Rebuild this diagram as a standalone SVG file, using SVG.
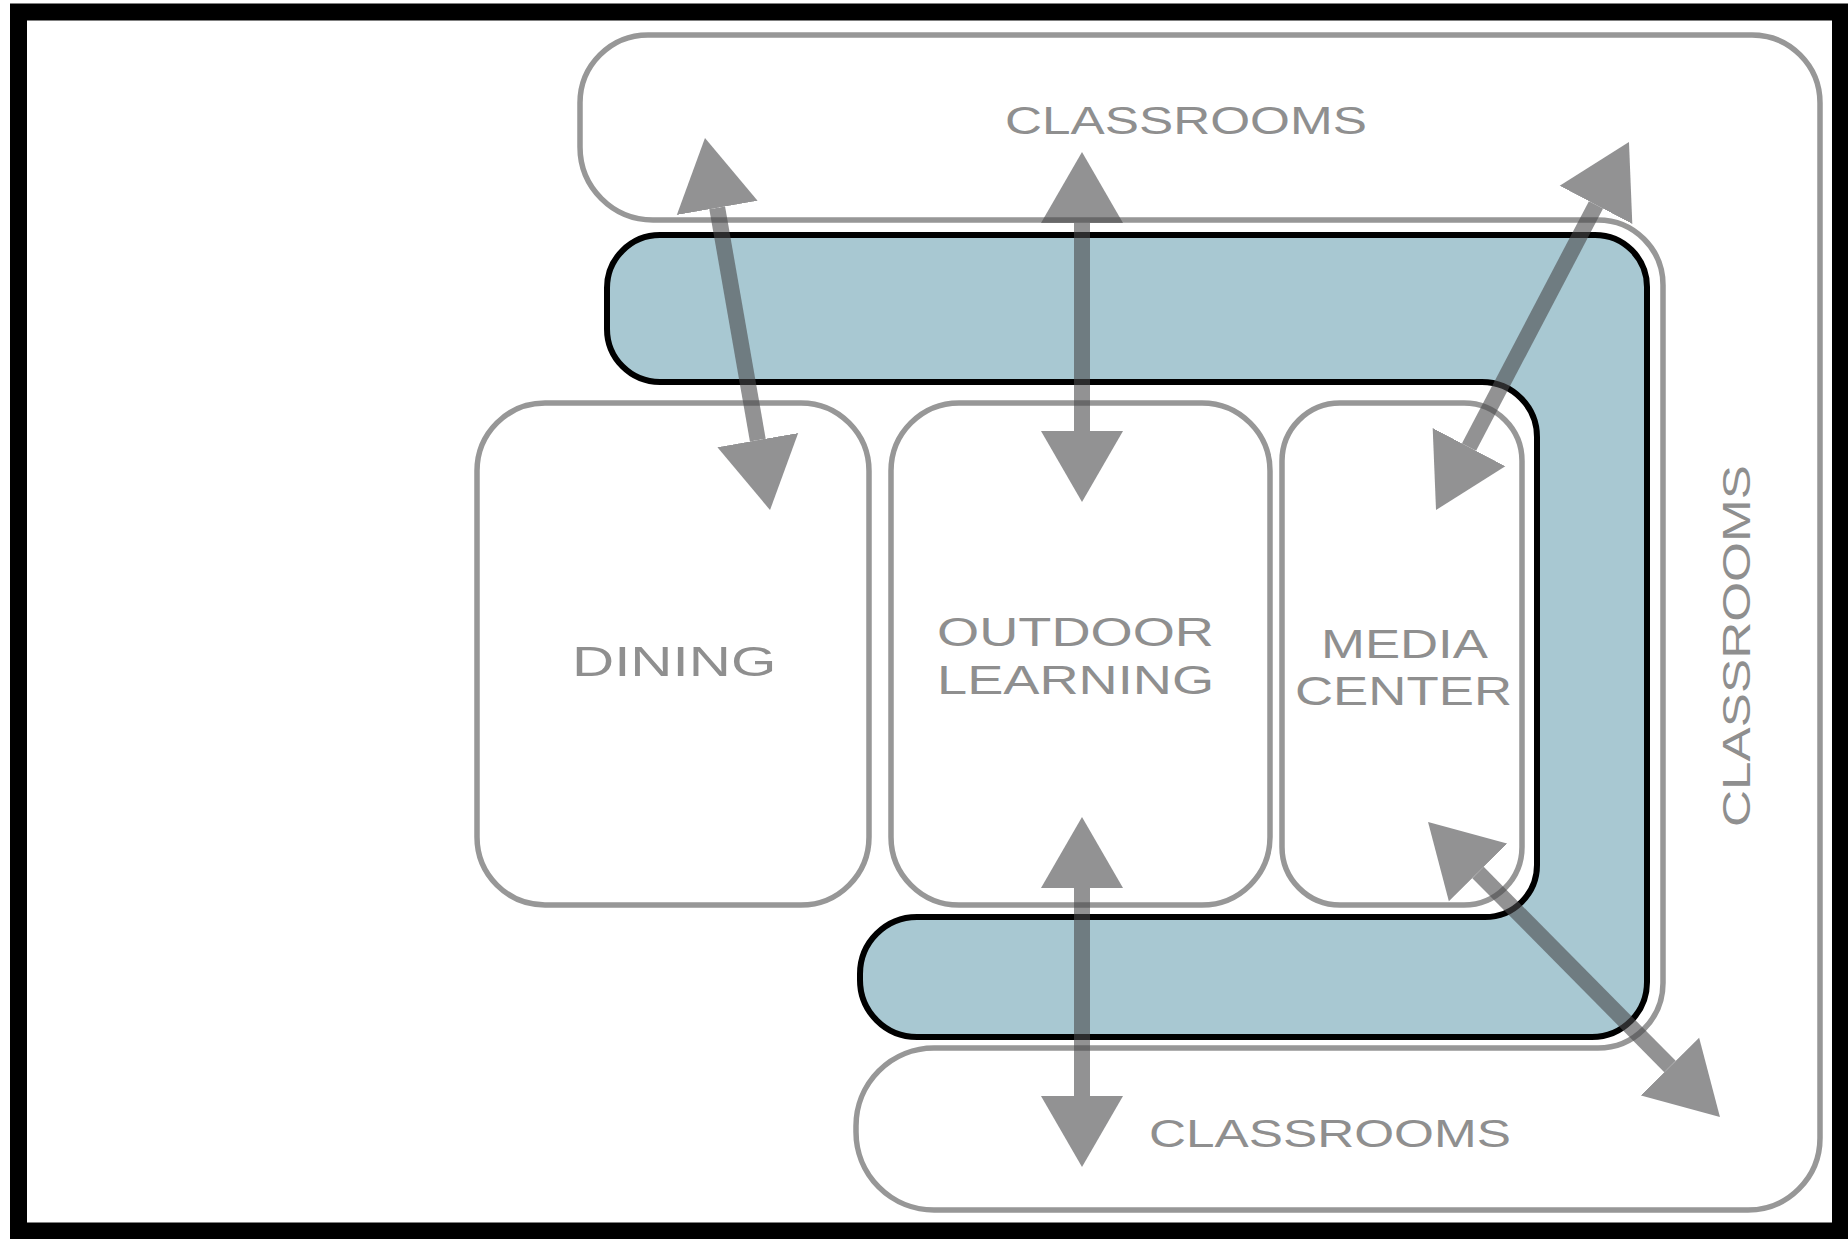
<svg xmlns="http://www.w3.org/2000/svg" width="1848" height="1239" viewBox="0 0 1848 1239">
<style>
.outline{fill:none;stroke:#979797;stroke-width:5.5}
.lbl{font-family:"Liberation Sans",Arial,sans-serif;font-size:40px;fill:#8f8f8f}
.cls{font-size:38px}
.shaft{stroke:#4a4a4c;stroke-width:16;fill:none}
</style>
<defs>
<marker id="head" markerUnits="userSpaceOnUse" viewBox="0 -42 72 84" markerWidth="72" markerHeight="84" refX="0" refY="0" orient="auto-start-reverse">
<path d="M0,-41 L71,0 L0,41 Z" fill="#4a4a4c"/>
</marker>
</defs>
<rect width="1848" height="1239" fill="#ffffff"/>
<g id="frame"><rect x="18.5" y="12" width="1822" height="1219" fill="none" stroke="#000" stroke-width="17"/></g>
<g id="classrooms">
<path class="outline" d="M648,35 H1752 A68 68 0 0 1 1820,103 V1138 A72 72 0 0 1 1748,1210 H934 A78 78 0 0 1 856,1132 V1126 A78 78 0 0 1 934,1048 H1598 A65 65 0 0 0 1663,983 V285 A65 65 0 0 0 1598,220 H653 A73 73 0 0 1 580,147 V103 A68 68 0 0 1 648,35 Z"/>
<text class="lbl cls" transform="translate(1005,134) scale(1.35,1)">CLASSROOMS</text>
<text class="lbl cls" transform="translate(1149,1147) scale(1.35,1)">CLASSROOMS</text>
<text class="lbl cls" transform="translate(1750,827) rotate(-90) scale(1.35,1)">CLASSROOMS</text>
</g>
<g id="dining">
<rect class="outline" x="477" y="403" width="392" height="502" rx="68" ry="68"/>
<text class="lbl" style="font-size:42px" transform="translate(572,676) scale(1.39,1)">DINING</text>
</g>
<g id="outdoor-learning">
<rect class="outline" x="891" y="403" width="379" height="502" rx="68" ry="68"/>
<text class="lbl" transform="translate(937,646) scale(1.355,1)">OUTDOOR</text>
<text class="lbl" transform="translate(937,694) scale(1.355,1)">LEARNING</text>
</g>
<g id="media-center">
<rect class="outline" x="1282" y="403" width="240" height="502" rx="58" ry="58"/>
<text class="lbl" transform="translate(1321,658) scale(1.318,1)">MEDIA</text>
<text class="lbl" transform="translate(1295,705) scale(1.32,1)">CENTER</text>
</g>
<g id="circulation">
<path d="M660,235 H1595 A52 52 0 0 1 1647,287 V982 A55 55 0 0 1 1592,1037 H917 A57 57 0 0 1 860,980 V974 A57 57 0 0 1 917,917 H1485 A52 52 0 0 0 1537,865 V437 A55 55 0 0 0 1482,382 H660 A53 53 0 0 1 607,329 V288 A53 53 0 0 1 660,235 Z" fill="#a8c8d2" stroke="#000" stroke-width="6"/>
</g>
<g id="connectors">
<g opacity="0.6"><line class="shaft" x1="717.2" y1="207.9" x2="757.8" y2="440.1" marker-start="url(#head)" marker-end="url(#head)"/></g>
<g opacity="0.6"><line class="shaft" x1="1082" y1="223" x2="1082" y2="431" marker-start="url(#head)" marker-end="url(#head)"/></g>
<g opacity="0.6"><line class="shaft" x1="1596" y1="204.9" x2="1469" y2="447.1" marker-start="url(#head)" marker-end="url(#head)"/></g>
<g opacity="0.6"><line class="shaft" x1="1082" y1="888" x2="1082" y2="1096" marker-start="url(#head)" marker-end="url(#head)"/></g>
<g opacity="0.6"><line class="shaft" x1="1478" y1="872.5" x2="1670" y2="1066.5" marker-start="url(#head)" marker-end="url(#head)"/></g>
</g>
</svg>
